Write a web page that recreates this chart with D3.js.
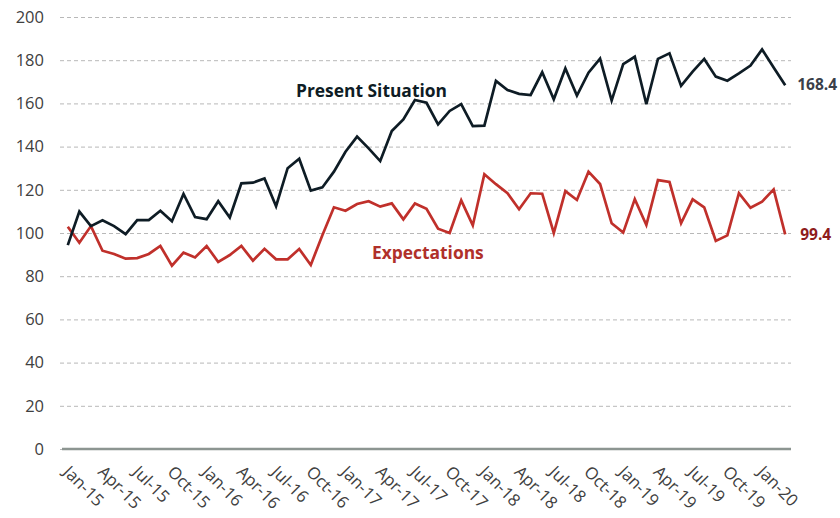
<!DOCTYPE html>
<html>
<head>
<meta charset="utf-8">
<script src="https://cdn.jsdelivr.net/npm/d3@7"></script>
<style>
  body { margin: 0; background: #fff; }
  svg text { font-family: "Open Sans", "Noto Sans", sans-serif; }
</style>
</head>
<body>
<div id="chart"></div>
<script>
// monthly, Jan-15 .. Mar-20
var months = d3.timeMonth.range(new Date(2015, 0, 1), new Date(2020, 3, 1));
var fmt = d3.timeFormat("%b-%y");
var monthLabels = months.map(fmt);

var presentSituation = [
  94.4, 109.9, 103.2, 105.9, 103.2, 99.5, 106.0, 106.0, 110.3, 105.4,
  118.1, 107.4, 106.4, 114.7, 107.2, 123.0, 123.3, 125.2, 112.4, 130.0,
  134.4, 119.6, 121.1, 128.4, 137.6, 144.6, 139.2, 133.3, 147.2, 152.6,
  161.6, 160.3, 150.3, 156.5, 159.7, 149.5, 149.7, 170.4, 166.2, 164.4,
  163.9, 174.4, 161.9, 176.2, 163.6, 174.2, 180.7, 161.3, 178.2, 181.6,
  159.6, 180.6, 183.2, 168.1, 174.7, 180.6, 172.4, 170.5, 173.9, 177.5,
  185.0, 176.6, 168.4
];

var expectations = [
  102.9, 95.5, 103.2, 91.8, 90.3, 88.1, 88.4, 90.3, 94.0, 84.9,
  90.9, 88.7, 94.0, 86.6, 89.8, 94.0, 87.2, 92.7, 87.8, 87.8,
  92.6, 85.2, 99.0, 111.9, 110.3, 113.4, 114.7, 112.2, 113.7, 106.3,
  113.7, 111.2, 102.0, 100.0, 115.1, 103.5, 127.2, 122.6, 118.4, 111.0,
  118.4, 118.2, 100.0, 119.4, 115.3, 128.4, 122.7, 104.5, 100.2, 115.7,
  103.7, 124.5, 123.6, 104.5, 115.6, 111.9, 96.3, 98.9, 118.4, 111.7,
  114.5, 120.2, 99.4
];

var yTicks = [0, 20, 40, 60, 80, 100, 120, 140, 160, 180, 200];

var W = 840, H = 518;
var margin = { top: 17, right: 49, bottom: 69, left: 62 };
var width = W - margin.left - margin.right,
  height = H - margin.top - margin.bottom;

var svg = d3.select("#chart")
  .append("svg")
  .attr("width", W)
  .attr("height", H)
  .append("g")
  .attr("transform", "translate(" + margin.left + "," + margin.top + ")");

var x = d3.scalePoint()
  .domain(monthLabels)
  .range([0, width])
  .padding(0.5);

var y = d3.scaleLinear()
  .domain([0, 200])
  .range([height, 0]);

// gridlines + y labels
var yAxis = svg.append("g")
  .call(d3.axisLeft(y)
    .tickValues(yTicks)
    .tickSize(-width - 2)
    .tickPadding(18));
yAxis.select(".domain").remove();
yAxis.selectAll("line")
  .attr("transform", "translate(-2,0)")
  .attr("stroke", "#b8b8b8")
  .attr("stroke-dasharray", "4,3");
yAxis.selectAll("text")
  .attr("fill", "#404040")
  .style("font-size", "16.5px");

// baseline
svg.append("line")
  .attr("x1", 0)
  .attr("x2", width)
  .attr("y1", y(0))
  .attr("y2", y(0))
  .attr("stroke", "#8c9591")
  .attr("stroke-width", 2.5);

// x axis
var xAxis = svg.append("g")
  .attr("transform", "translate(0," + height + ")")
  .call(d3.axisBottom(x)
    .tickValues(monthLabels.filter(function (d, i) { return i % 3 === 0; }))
    .tickSize(0)
    .tickPadding(0));
xAxis.select(".domain").remove();
xAxis.selectAll("text")
  .attr("fill", "#404040")
  .style("font-size", "16.8px")
  .style("text-anchor", "start")
  .attr("dy", null)
  .attr("y", 0)
  .attr("transform", "translate(-6,24)rotate(45)");

// lines
var line = d3.line()
  .x(function (d, i) { return x(monthLabels[i]); })
  .y(function (d) { return y(d); });

svg.append("path")
  .datum(expectations)
  .attr("fill", "none")
  .attr("stroke", "#c0302b")
  .attr("stroke-width", 2.7)
  .attr("d", line);

svg.append("path")
  .datum(presentSituation)
  .attr("fill", "none")
  .attr("stroke", "#0e1c25")
  .attr("stroke-width", 2.7)
  .attr("d", line);

// series labels
svg.append("text")
  .attr("x", 234)
  .attr("y", 80)
  .attr("fill", "#0e1c25")
  .style("font-size", "17.4px")
  .style("font-weight", "bold")
  .text("Present Situation");

svg.append("text")
  .attr("x", 310)
  .attr("y", 242)
  .attr("fill", "#b0302a")
  .style("font-size", "17.4px")
  .style("font-weight", "bold")
  .text("Expectations");

// end values
var last = monthLabels.length - 1;
svg.append("text")
  .attr("x", x(monthLabels[last]) + 12)
  .attr("y", y(presentSituation[last]) + 5)
  .attr("fill", "#3a3f4a")
  .style("font-size", "15.5px")
  .style("font-weight", "bold")
  .text(presentSituation[last]);

svg.append("text")
  .attr("x", x(monthLabels[last]) + 15)
  .attr("y", y(expectations[last]) + 6)
  .attr("fill", "#8e1c1c")
  .style("font-size", "15.5px")
  .style("font-weight", "bold")
  .text(expectations[last]);
</script>
</body>
</html>
